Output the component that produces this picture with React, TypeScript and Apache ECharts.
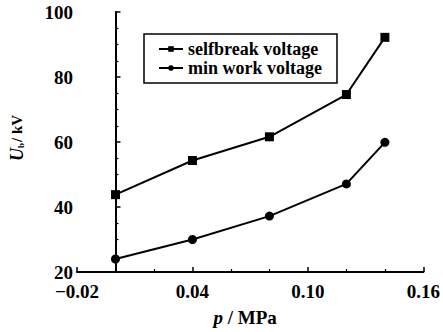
import React, { useEffect, useRef } from "react";
import * as echarts from "echarts";

const pressure = [0.0, 0.04, 0.08, 0.12, 0.14];
const selfbreakVoltage = [43.8, 54.3, 61.6, 74.6, 92.2];
const minWorkVoltage = [24.0, 30.0, 37.2, 47.1, 59.9];
const seriesNames = ["selfbreak voltage", "min work voltage"];

const FONT = "'Liberation Serif', 'DejaVu Serif', serif";

export default function App() {
  const ref = useRef<HTMLDivElement>(null);
  useEffect(() => {
    if (!ref.current) return;
    const chart = echarts.init(ref.current, null, { renderer: "svg" });
    const axisCommon = {
      axisLine: { show: true, lineStyle: { color: "#000", width: 2 } },
      axisTick: { show: true, inside: true, length: 5, lineStyle: { color: "#000", width: 1.5 } },
      minorTick: { show: true, length: 3, lineStyle: { color: "#000", width: 1.2 } },
      splitLine: { show: false },
      axisLabel: { color: "#000", fontFamily: FONT, fontWeight: "bold", fontSize: 19, lineHeight: 14 },
    };
    chart.setOption({
      animation: false,
      backgroundColor: "#fff",
      grid: { left: 67, right: 15, top: 12, bottom: 54 },
      legend: {
        orient: "vertical",
        left: 144,
        top: 34,
        itemWidth: 24,
        itemHeight: 7,
        itemGap: 1,
        padding: [6, 15, 6, 14],
        borderColor: "#000",
        borderWidth: 1.5,
        formatter: (n: string) => "{a|" + n + "}",
        textStyle: {
          color: "#000",
          fontFamily: FONT,
          fontWeight: "bold",
          fontSize: 18,
          rich: { a: { color: "#000", fontFamily: FONT, fontWeight: "bold", fontSize: 18, lineHeight: 16 } },
        },
        data: seriesNames,
      },
      xAxis: {
        type: "value",
        min: -0.02,
        max: 0.16,
        interval: 0.06,
        ...axisCommon,
        minorTick: { ...axisCommon.minorTick, splitNumber: 3 },
        axisLabel: {
          ...axisCommon.axisLabel,
          margin: 12,
          formatter: (v: number) => (v < 0 ? "\u2212" + Math.abs(v).toFixed(2) : v.toFixed(2)),
        },
        name: "{i|p} / MPa",
        nameLocation: "middle",
        nameGap: 36,
        nameTextStyle: {
          color: "#000",
          fontFamily: FONT,
          fontWeight: "bold",
          fontSize: 19,
          padding: [0, 10, 0, 0],
          rich: { i: { fontStyle: "italic", fontWeight: "bold", fontFamily: FONT, fontSize: 19, color: "#000" } },
        },
      },
      yAxis: {
        type: "value",
        min: 20,
        max: 100,
        interval: 20,
        ...axisCommon,
        minorTick: { ...axisCommon.minorTick, splitNumber: 4 },
        axisLabel: { ...axisCommon.axisLabel, margin: 4 },
        name: "{i|U}{s|b}{n|/ kV}",
        nameLocation: "middle",
        nameRotate: 90,
        nameGap: 51,
        nameTextStyle: {
          color: "#000",
          fontFamily: FONT,
          fontWeight: "bold",
          fontSize: 18,
          padding: [0, 0, 0, 8],
          rich: {
            i: { fontStyle: "italic", fontWeight: "bold", fontFamily: FONT, fontSize: 18, color: "#000" },
            s: { fontWeight: "bold", fontFamily: FONT, fontSize: 9, color: "#000", padding: [8, 1, 0, 0] },
            n: { fontWeight: "bold", fontFamily: FONT, fontSize: 15, color: "#000" },
          },
        },
      },
      series: [
        {
          name: seriesNames[0],
          type: "line",
          data: pressure.map((p, i) => [p, selfbreakVoltage[i]]),
          symbol: "rect",
          symbolSize: 9,
          itemStyle: { color: "#000" },
          lineStyle: { color: "#000", width: 2 },
        },
        {
          name: seriesNames[1],
          type: "line",
          data: pressure.map((p, i) => [p, minWorkVoltage[i]]),
          symbol: "circle",
          symbolSize: 9,
          itemStyle: { color: "#000" },
          lineStyle: { color: "#000", width: 2 },
        },
      ],
    });
    return () => chart.dispose();
  }, []);
  return <div ref={ref} style={{ width: 443, height: 332, position: "absolute", left: 0, top: 0 }} />;
}
